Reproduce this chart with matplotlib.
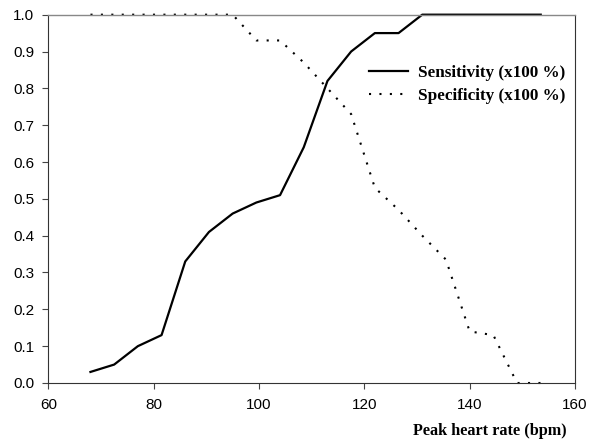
import matplotlib
matplotlib.use("Agg")
import matplotlib.pyplot as plt

# peak heart rate cut-offs (bpm)
heart_rate = [68, 72.5, 77, 81.5, 86, 90.5, 95, 99.5, 104, 108.5,
              113, 117.5, 122, 126.5, 131, 135.5, 140, 144.5, 149, 153.5]
sensitivity = [0.03, 0.05, 0.10, 0.13, 0.33, 0.41, 0.46, 0.49, 0.51, 0.64,
               0.82, 0.90, 0.95, 0.95, 1.00, 1.00, 1.00, 1.00, 1.00, 1.00]
specificity = [1.00, 1.00, 1.00, 1.00, 1.00, 1.00, 1.00, 0.93, 0.93, 0.87,
               0.80, 0.73, 0.53, 0.47, 0.40, 0.335, 0.14, 0.13, 0.00, 0.00]

x_ticks = [60, 80, 100, 120, 140, 160]
y_ticks = [0.0, 0.1, 0.2, 0.3, 0.4, 0.5, 0.6, 0.7, 0.8, 0.9, 1.0]

fig = plt.figure(figsize=(5.93, 4.42), dpi=100)
ax = fig.add_axes([0.0815, 0.1335, 0.8881, 0.8333])

ax.plot(heart_rate, sensitivity, color="black", lw=1.6,
        label="Sensitivity (x100 %)", clip_on=False)
ax.plot(heart_rate, specificity, color="black", lw=1.5, ls=(0, (1, 4)),
        label="Specificity (x100 %)", clip_on=False)

ax.set_xlim(60, 160)
ax.set_ylim(0, 1)
ax.set_xticks(x_ticks)
ax.set_yticks(y_ticks)
ax.set_xticklabels([str(t) for t in x_ticks], family="Liberation Sans", fontsize=11)
ax.set_yticklabels([f"{t:.1f}" for t in y_ticks], family="Liberation Sans", fontsize=11)
ax.tick_params(direction="out", length=4, width=0.8, color="#444444")
ax.tick_params(axis="x", pad=7)
ax.tick_params(axis="y", pad=6)

ax.spines["top"].set_color("#888888")
ax.spines["top"].set_linewidth(1.0)
ax.spines["right"].set_color("#333333")
ax.spines["right"].set_linewidth(0.8)
ax.spines["left"].set_color("#333333")
ax.spines["bottom"].set_color("#333333")

ax.set_xlabel("Peak heart rate (bpm)", family="Liberation Serif",
              fontweight="bold", fontsize=11.7)
ax.xaxis.set_label_coords(0.985, -0.13)
ax.xaxis.label.set_horizontalalignment("right")
ax.xaxis.label.set_verticalalignment("center")

leg = ax.legend(loc="upper left", bbox_to_anchor=(0.58, 0.905), frameon=False,
                handlelength=2.3, handletextpad=0.55, labelspacing=0.4,
                prop={"family": "Liberation Serif", "weight": "bold", "size": 12.3})

fig.savefig("out.png", dpi=100)
